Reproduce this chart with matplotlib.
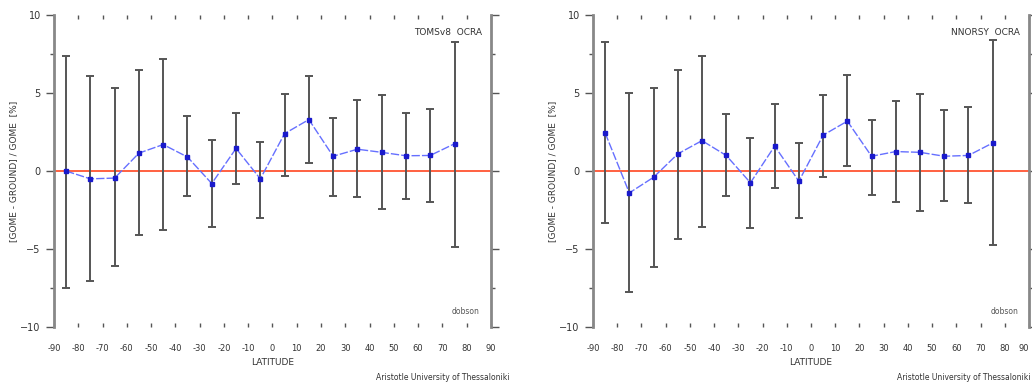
import numpy as np
import matplotlib
matplotlib.use('Agg')
import matplotlib.pyplot as plt

# latitude band centres
lat = [-85, -75, -65, -55, -45, -35, -25, -15, -5, 5, 15, 25, 35, 45, 55, 65, 75]

# TOMSv8 OCRA vs ground
toms_mean = [0.0, -0.5, -0.45, 1.15, 1.7, 0.9, -0.8, 1.45, -0.5, 2.4, 3.3, 0.95, 1.4, 1.2, 0.98, 1.0, 1.75]
toms_hi = [7.4, 6.1, 5.3, 6.5, 7.2, 3.5, 2.0, 3.7, 1.85, 4.95, 6.1, 3.4, 4.55, 4.9, 3.7, 4.0, 8.3]
toms_lo = [-7.5, -7.05, -6.1, -4.1, -3.8, -1.6, -3.6, -0.8, -3.0, -0.3, 0.5, -1.6, -1.65, -2.45, -1.8, -2.0, -4.9]

# NNORSY OCRA vs ground
nn_mean = [2.45, -1.4, -0.4, 1.1, 1.95, 1.0, -0.75, 1.6, -0.65, 2.3, 3.2, 0.95, 1.25, 1.2, 0.95, 1.0, 1.8]
nn_hi = [8.3, 5.0, 5.35, 6.5, 7.35, 3.65, 2.1, 4.3, 1.8, 4.9, 6.15, 3.3, 4.5, 4.95, 3.9, 4.1, 8.4]
nn_lo = [-3.3, -7.75, -6.15, -4.35, -3.6, -1.6, -3.65, -1.1, -3.0, -0.4, 0.35, -1.55, -2.0, -2.55, -1.95, -2.05, -4.75]

xticks = list(range(-90, 91, 10))
yticks = [-10, -5, 0, 5, 10]

fig = plt.figure(figsize=(10.32, 3.87), dpi=100)
txt = '#333333'


def panel(rect, mean, lo, hi, title):
    ax = fig.add_axes(rect)
    mean = np.array(mean)
    yerr = [mean - np.array(lo), np.array(hi) - mean]
    ax.errorbar(lat, mean, yerr=yerr, fmt='none', ecolor='#555555',
                elinewidth=1.4, capsize=3, capthick=1.4, zorder=2)
    ax.axhline(0, color='#ff6040', lw=1.4, zorder=1)
    ax.plot(lat, mean, color='#6670ff', lw=1.0, ls=(0, (6, 1.5)), zorder=3)
    ax.plot(lat, mean, 's', color='#1a1acc', ms=2.5, zorder=4)

    ax.set_xlim(-90, 90)
    ax.set_ylim(-10, 10)
    for s in ['top', 'bottom']:
        ax.spines[s].set_visible(False)
    for s in ['left', 'right']:
        ax.spines[s].set_color('#888888')
        ax.spines[s].set_linewidth(2)

    ax.set_xticks(xticks)
    ax.set_xticklabels([str(v) for v in xticks])
    ax.tick_params(axis='x', direction='in', top=True, bottom=True, length=3,
                   width=1, color='#555555', labelsize=6, labelcolor=txt, pad=12)
    ax.set_yticks(yticks)
    ax.set_yticks([-7.5, 7.5], minor=True)
    ax.tick_params(axis='y', which='major', direction='out', left=True, right=True,
                   length=6, width=1, color='#555555', labelsize=7, labelcolor=txt)
    ax.tick_params(axis='y', which='minor', direction='out', left=True, right=True,
                   length=3, width=1, color='#555555')
    ax.tick_params(axis='x', which='minor', bottom=False, top=False)

    ax.set_xlabel('LATITUDE', fontsize=6.5, color=txt, labelpad=4)
    ax.set_ylabel('[GOME - GROUND] / GOME  [%]', fontsize=6.5, color=txt, labelpad=2)
    ax.text(0.98, 0.96, title, transform=ax.transAxes, ha='right', va='top',
            fontsize=6.5, color=txt)
    ax.text(0.975, 0.035, 'dobson', transform=ax.transAxes, ha='right', va='bottom',
            fontsize=5.5, color='#555555')
    return ax


panel([0.0523, 0.155, 0.4234, 0.806], toms_mean, toms_lo, toms_hi, 'TOMSv8  OCRA')
ax2 = panel([0.5746, 0.155, 0.4225, 0.806], nn_mean, nn_lo, nn_hi, 'NNORSY  OCRA')
ax2.get_xticklabels()[-1].set_horizontalalignment('right')

fig.text(0.494, 0.012, 'Aristotle University of Thessaloniki', ha='right', va='bottom',
         fontsize=5.5, color=txt)
fig.text(0.999, 0.012, 'Aristotle University of Thessaloniki', ha='right', va='bottom',
         fontsize=5.5, color=txt)

fig.savefig('out.png', dpi=100)
